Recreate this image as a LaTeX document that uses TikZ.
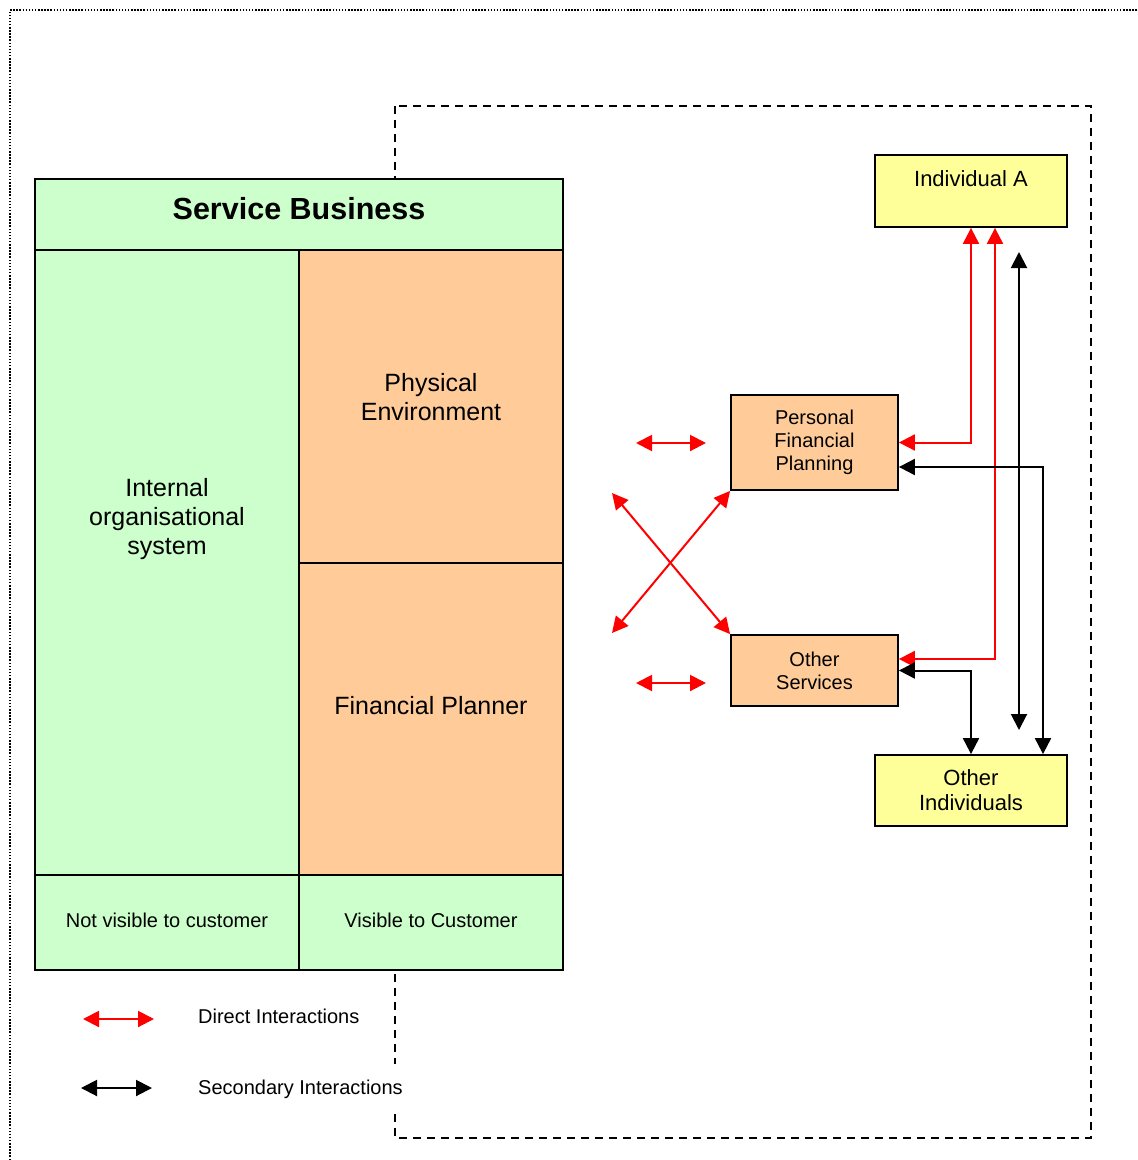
\documentclass[tikz,border=0pt]{standalone}
\usepackage{fontspec}
\setmainfont{Liberation Sans}
\usetikzlibrary{arrows.meta}
\definecolor{SBgreen}{HTML}{CCFFCC}
\definecolor{SBorange}{HTML}{FFCC99}
\definecolor{SByellow}{HTML}{FFFF99}

\begin{document}
\begin{tikzpicture}[x=1pt,y=-1pt,
  box/.style={draw,line width=1.8pt,inner sep=0pt,align=center},
  greenbox/.style={box,fill=SBgreen},
  orangebox/.style={box,fill=SBorange},
  yellowbox/.style={box,fill=SByellow},
  bigtxt/.style={align=center,font=\fontsize{25}{29}\selectfont},
  midtxt/.style={font=\fontsize{22}{25}\selectfont},
  smalltxt/.style={font=\fontsize{20}{23}\selectfont},
  direct/.style={red,line width=2pt,{Triangle[length=16pt,width=16pt]}-{Triangle[length=16pt,width=16pt]}},
  secondary/.style={black,line width=2pt,{Triangle[length=16pt,width=16pt]}-{Triangle[length=16pt,width=16pt]}}]
  \useasboundingbox (0,0) rectangle (1138,1160);

  % frames
  \draw[line width=1.4pt,dash pattern=on 1.5pt off 1.6pt] (10,1160) -- (10,10) -- (1138,10);
  \draw[line width=1.6pt,dash pattern=on 8pt off 6pt] (395,106) rectangle (1091,1138);

  % service business
  \node[greenbox,minimum width=528pt,minimum height=71pt] (head) at (299,214.5) {};
  \node[font=\bfseries\fontsize{30.5}{34}\selectfont] (headtxt) at (299,209) {Service Business};
  \node[greenbox,minimum width=264pt,minimum height=625pt] (intl) at (167,562.5) {};
  \node[bigtxt] (intltxt) at (167,519) {Internal\\organisational\\system};
  \node[orangebox,minimum width=264pt,minimum height=313pt] (phys) at (431,406.5) {};
  \node[bigtxt] (physTxt) at (431,397) {Physical\\Environment};
  \node[orangebox,minimum width=264pt,minimum height=312pt] (fp) at (431,719) {};
  \node[bigtxt] (fptxt) at (431,706) {Financial Planner};
  \node[greenbox,minimum width=264pt,minimum height=95pt] (notvis) at (167,922.5) {};
  \node[smalltxt] (notvistxt) at (167,920) {Not visible to customer};
  \node[greenbox,minimum width=264pt,minimum height=95pt] (vis) at (431,922.5) {};
  \node[smalltxt] (vistxt) at (431,920) {Visible to Customer};

  % services and individuals
  \node[orangebox,smalltxt,minimum width=167pt,minimum height=95pt] (pfp) at (814.5,442.5) {Personal\\Financial\\Planning};
  \node[orangebox,smalltxt,minimum width=167pt,minimum height=71pt] (os) at (814.5,670.5) {Other\\Services};
  \node[yellowbox,minimum width=192pt,minimum height=72pt] (ia) at (971,191) {};
  \node[midtxt] (iatxt) at (971,179) {Individual A};
  \node[yellowbox,midtxt,minimum width=192pt,minimum height=71pt] (oi) at (971,790.5) {Other\\Individuals};

  % free arrow ends
  \coordinate (d1a) at (636,443);
  \coordinate (d1b) at (706,443);
  \coordinate (d2a) at (636,683);
  \coordinate (d2b) at (706,683);
  \coordinate (x1) at (612,493);
  \coordinate (x2) at (612,633);
  \coordinate (s1) at (1019,252);
  \coordinate (s2) at (1019,730);

  % interactions
  \draw[direct] (d1a) -- (d1b);
  \draw[direct] (d2a) -- (d2b);
  \draw[direct] (x1) -- (os.north west);
  \draw[direct] (x2) -- (pfp.south west);
  \draw[direct] (ia.south) |- (pfp.east);
  \draw[direct] ([xshift=24pt]ia.south) |- ([yshift=11.5pt]os.east);
  \draw[secondary] (s1) -- (s2);
  \draw[secondary] ([yshift=-24.5pt]pfp.east) -| ([xshift=72pt]oi.north);
  \draw[secondary] (os.east) -| (oi.north);

  % legend
  \coordinate (l1a) at (83,1019);
  \coordinate (l1b) at (154,1019);
  \coordinate (l2a) at (81,1088);
  \coordinate (l2b) at (152,1088);
  \draw[direct] (l1a) -- (l1b);
  \draw[secondary] (l2a) -- (l2b);
  \node[smalltxt,anchor=west,inner sep=0pt] (leg1) at (198,1016) {Direct Interactions};
  \node[smalltxt,anchor=west,fill=white,inner xsep=0pt,minimum height=50pt] (leg2) at (198,1089) {Secondary Interactions};
\end{tikzpicture}
\end{document}
